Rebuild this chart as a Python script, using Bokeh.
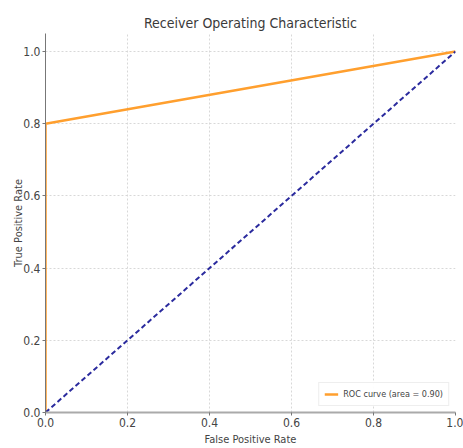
from bokeh.plotting import figure
from bokeh.models import Range1d, FixedTicker, Legend, LegendItem, PrintfTickFormatter
from bokeh.embed import file_html
from bokeh.resources import INLINE

fpr = [0.0, 0.0, 1.0]
tpr = [0.0, 0.8, 1.0]
chance_x = [0.0, 1.0]
chance_y = [0.0, 1.0]
roc_label = "ROC curve (area = 0.90)"
ticks = [0.0, 0.2, 0.4, 0.6, 0.8, 1.0]

FONT = "DejaVu Sans Condensed"

p = figure(width=463, height=448, output_backend="svg", toolbar_location=None,
           x_range=Range1d(0, 1.0), y_range=Range1d(0, 1.05),
           min_border_left=45, min_border_right=8, min_border_top=33, min_border_bottom=35,
           title="Receiver Operating Characteristic")
p.title.align = "center"
p.title.text_font = FONT
p.title.text_font_size = "14px"
p.title.text_font_style = "normal"
p.title.text_color = "#3a3a3a"
p.title.standoff = 6

p.outline_line_color = None
p.background_fill_color = "white"

r1 = p.line(fpr, tpr, line_color="#FF9F2E", line_width=2.5)
r2 = p.line(chance_x, chance_y, line_color="#2B2B9E", line_width=2, line_dash="5 3")

for ax in (p.xaxis[0], p.yaxis[0]):
    ax.ticker = FixedTicker(ticks=ticks)
    ax.formatter = PrintfTickFormatter(format="%.1f")
    ax.minor_tick_line_color = None
    ax.major_tick_out = 3
    ax.major_tick_in = 0
    ax.axis_line_color = "#777777"
    ax.major_tick_line_color = "#777777"
    ax.major_label_text_font = FONT
    ax.major_label_text_font_size = "12px"
    ax.major_label_text_color = "#444444"
    ax.axis_label_text_font = FONT
    ax.axis_label_text_font_size = "11px"
    ax.axis_label_text_font_style = "normal"
    ax.axis_label_text_color = "#444444"
    ax.major_label_standoff = 2
    ax.axis_label_standoff = 3

p.yaxis.axis_label_standoff = -5
p.xaxis.axis_line_width = 2
p.xaxis.axis_line_color = "#aaaaaa"
p.xaxis.axis_label = "False Positive Rate"
p.yaxis.axis_label = "True Positive Rate"

p.xgrid.ticker = FixedTicker(ticks=ticks)
p.ygrid.ticker = FixedTicker(ticks=ticks)
p.grid.grid_line_color = "#d8d8d8"
p.grid.grid_line_dash = "2 2"

legend = Legend(items=[LegendItem(label=roc_label, renderers=[r1])], location="bottom_right")
legend.label_text_font = FONT
legend.label_text_font_size = "9px"
legend.label_text_color = "#444444"
legend.border_line_color = "#dddddd"
legend.glyph_width = 14
legend.glyph_height = 10
legend.padding = 5
legend.margin = 6
legend.spacing = 0
legend.label_height = 12
p.add_layout(legend)

open("out.html", "w").write(file_html(p, INLINE))
